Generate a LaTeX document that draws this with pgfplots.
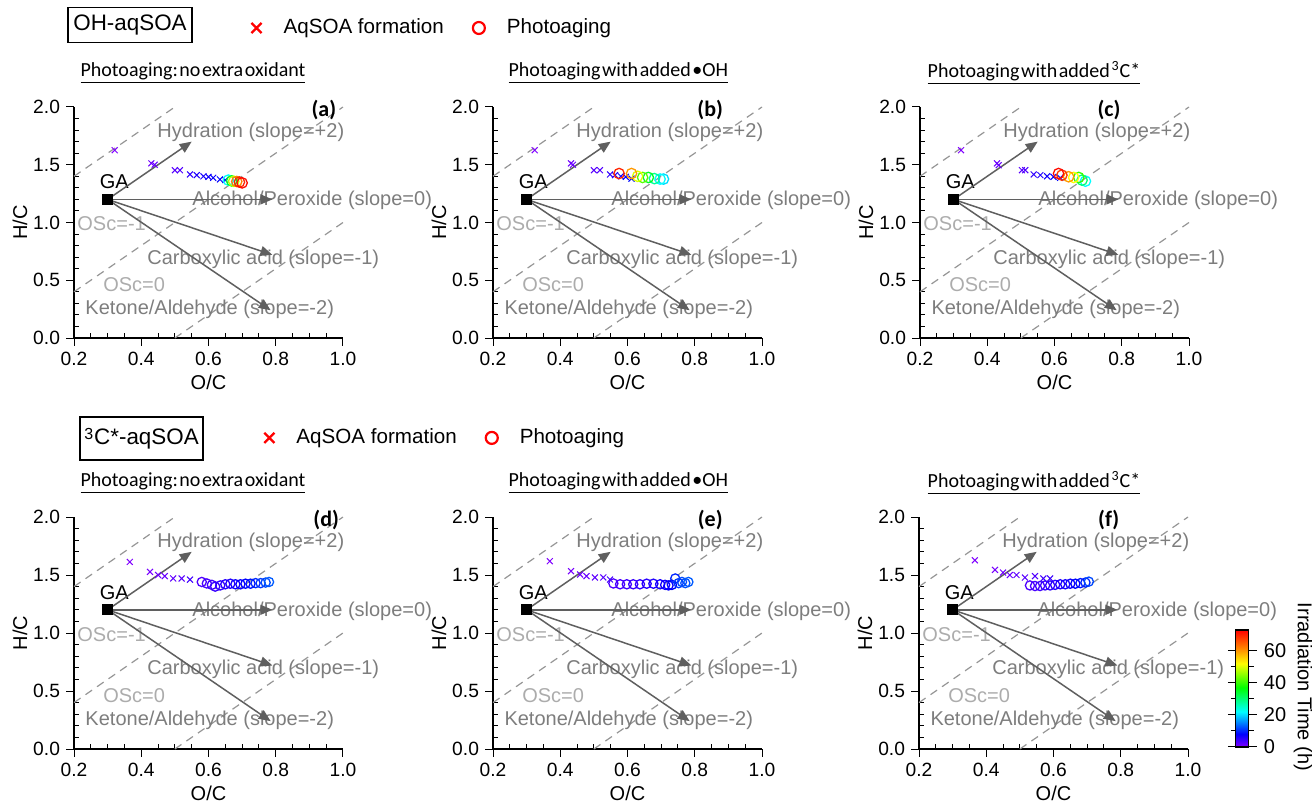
\documentclass[border=0pt]{standalone}
\usepackage{fontspec}
\setmainfont{Liberation Sans}
\newfontfamily\calfont{Carlito}
\usepackage{pgfplots}
\usepackage{pgfplotstable}
\pgfplotsset{compat=1.18}
\usetikzlibrary{arrows.meta}

\definecolor{anntext}{RGB}{125,125,125}
\definecolor{osctext}{RGB}{172,172,172}
\definecolor{arrcol}{RGB}{95,95,95}
\definecolor{dashcol}{RGB}{150,150,150}

\tikzset{ann/.style={anntext, inner sep=0pt, font=\fontsize{10}{12}\selectfont},
  plet/.style={inner sep=0pt, font=\calfont\bfseries\fontsize{11}{13}\selectfont}}

\pgfplotsset{
  colormap={irr}{rgb255(0cm)=(128,0,255) rgb255(8cm)=(0,0,255) rgb255(22cm)=(0,255,255) rgb255(37cm)=(0,255,0) rgb255(52cm)=(255,255,0) rgb255(62cm)=(255,128,0) rgb255(73cm)=(255,0,0)},
  panel/.style={
    scale only axis, width=134.5pt,
    xmin=0.2, xmax=1.0, ymin=0, ymax=2.0,
    axis lines*=left, clip=false,
    xtick={0.2,0.4,0.6,0.8,1.0}, ytick={0,0.5,1.0,1.5,2.0},
    minor x tick num=3, minor y tick num=4,
    tick align=inside, major tick length=-4pt, minor tick length=2.5pt,
    axis line style={line width=0.6pt},
    every tick/.style={black, line width=0.5pt},
    xticklabel style={yshift=-3.5pt},
    yticklabel style={xshift=-3.5pt},
    tick label style={font=\fontsize{9.6}{11}\selectfont},
    /pgf/number format/.cd, fixed, fixed zerofill, precision=1, assume math mode=true,
    /pgfplots/.cd,
    xlabel={O/C}, ylabel={H/C},
    label style={font=\fontsize{10}{12}\selectfont},
    every axis x label/.style={at={(axis description cs:0.5,0)}, yshift=-22pt, anchor=center},
    every axis y label/.style={at={(axis description cs:0,0.5)}, xshift=-27pt, rotate=90, anchor=center},
    colormap name=irr, point meta min=0, point meta max=73,
  },
  osc/.style={dashcol, line width=0.6pt, dash pattern=on 4pt off 3pt, forget plot},
  arr/.style={arrcol, line width=0.75pt, -{Triangle[length=6pt,width=5pt]}, forget plot},
  xs/.style={scatter, only marks, mark=x, mark size=2.1pt, line width=0.5pt, scatter src=explicit, scatter/use mapped color={draw=mapped color, fill=mapped color}, forget plot},
  os/.style={scatter, only marks, mark=o, mark size=#1, line width=0.65pt, scatter src=explicit, scatter/use mapped color={draw=mapped color, fill=none}, forget plot},
}

\newcommand\annot{%
  \addplot[osc] coordinates {(0.2,1.4) (0.5,2.0)};
  \addplot[osc] coordinates {(0.2,0.4) (1.0,2.0)};
  \addplot[osc] coordinates {(0.5,0) (1.0,1.0)};
  \node[ann, anchor=west] at (axis cs:0.447,1.785) {Hydration (slope=+2)};
  \node[ann, anchor=west] at (axis cs:0.551,1.19) {Alcohol/Peroxide (slope=0)};
  \node[ann, anchor=west] at (axis cs:0.417,0.685) {Carboxylic acid (slope=-1)};
  \node[ann, anchor=west] at (axis cs:0.233,0.245) {Ketone/Aldehyde (slope=-2)};
  \node[ann, osctext, anchor=west] at (axis cs:0.209,0.987) {OSc=-1};
  \node[ann, osctext, anchor=west] at (axis cs:0.286,0.46) {OSc=0};
  \node[inner sep=0pt, font=\fontsize{10}{12}\selectfont] at (axis cs:0.32,1.35) {GA};
  \addplot[arr] coordinates {(0.3,1.2) (0.55,1.70)};
  \addplot[arr] coordinates {(0.3,1.2) (0.79,1.2)};
  \addplot[arr] coordinates {(0.3,1.2) (0.79,0.72)};
  \addplot[arr] coordinates {(0.3,1.2) (0.785,0.24)};
  \addplot[only marks, mark=square*, mark size=2.5pt, black, forget plot] coordinates {(0.3,1.2)};
}

\pgfplotstableread{
x y t
0.321 1.626 0
0.430 1.512 1
0.440 1.500 1.5
0.500 1.453 2.5
0.515 1.453 3
0.545 1.416 5
0.565 1.410 6
0.585 1.400 6.5
0.600 1.395 7
0.614 1.387 7.5
0.634 1.373 8
0.650 1.367 9
}\aX
\pgfplotstableread{
x y t
0.659 1.367 22
0.669 1.360 35
0.675 1.357 48
0.684 1.355 62
0.692 1.350 70
0.700 1.343 72
}\aO
\pgfplotstableread{
x y t
0.324 1.626 0
0.432 1.512 1
0.438 1.500 1.5
0.500 1.453 2.5
0.518 1.453 3
0.548 1.416 5
0.563 1.410 6
0.580 1.400 7
0.595 1.395 7.5
0.612 1.380 8.5
}\bX
\pgfplotstableread{
x y t
0.707 1.376 20
0.697 1.376 22
0.680 1.380 28
0.662 1.390 35
0.645 1.390 42
0.630 1.400 50
0.612 1.424 60
0.575 1.424 70
}\bO
\pgfplotstableread{
x y t
0.322 1.626 0
0.429 1.512 1
0.434 1.496 1.5
0.503 1.453 2.5
0.513 1.453 3
0.538 1.416 5
0.558 1.410 6
0.578 1.400 7
0.597 1.395 7.5
0.617 1.387 8.5
}\cX
\pgfplotstableread{
x y t
0.692 1.358 22
0.682 1.367 30
0.672 1.390 40
0.657 1.390 52
0.642 1.396 60
0.622 1.410 68
0.612 1.424 72
}\cO
\pgfplotstableread{
x y t
0.366 1.613 0
0.426 1.527 0.5
0.450 1.500 1
0.470 1.490 1.5
0.495 1.470 2
0.520 1.470 2.5
0.545 1.460 4
}\dX
\pgfplotstableread{
x y t
0.580 1.440 3
0.595 1.427 3.5
0.610 1.415 4
0.620 1.400 4.5
0.635 1.410 5
0.650 1.420 5.5
0.665 1.425 6
0.680 1.420 7
0.695 1.420 7.5
0.710 1.425 8
0.725 1.425 9
0.740 1.430 10
0.755 1.430 11
0.770 1.435 12
0.780 1.440 13
}\dO
\pgfplotstableread{
x y t
0.369 1.619 0
0.432 1.533 0.5
0.459 1.504 1
0.478 1.490 1.5
0.503 1.479 2
0.528 1.479 2.5
0.548 1.461 4
}\eX
\pgfplotstableread{
x y t
0.558 1.427 3
0.578 1.420 3.5
0.598 1.420 4
0.617 1.420 4.5
0.637 1.420 5
0.657 1.425 5.5
0.677 1.425 6
0.697 1.420 6.5
0.712 1.415 7
0.722 1.410 7.5
0.732 1.415 8
0.742 1.470 10
0.752 1.430 11
0.762 1.440 12
0.772 1.430 12.5
0.781 1.440 13
}\eO
\pgfplotstableread{
x y t
0.366 1.627 0
0.426 1.544 0.5
0.450 1.521 1
0.470 1.500 1.5
0.490 1.500 2
0.515 1.478 2.5
0.545 1.490 3
0.570 1.470 4
0.590 1.470 4.5
}\fX
\pgfplotstableread{
x y t
0.530 1.410 3
0.545 1.405 3.5
0.560 1.405 4
0.575 1.410 4.5
0.590 1.410 5
0.605 1.415 5.5
0.620 1.420 6
0.635 1.420 6.5
0.650 1.425 7
0.665 1.425 8
0.680 1.430 9
0.695 1.435 10
0.705 1.443 12
}\fO

\newcommand\hdrlegend{%
  \addlegendimage{only marks, mark=x, mark size=3.6pt, line width=1.2pt, red}
  \addlegendentry{AqSOA formation}
  \addlegendimage{only marks, mark=o, mark size=3pt, line width=1.1pt, red}
  \addlegendentry{Photoaging}
}
\pgfplotsset{hdr/.style={legend style={at={(#1)}, anchor=west, draw=none, fill=none, inner sep=0pt, legend columns=-1, font=\fontsize{10.3}{12}\selectfont, /tikz/every odd column/.append style={column sep=9pt}, /tikz/every even column/.append style={column sep=12.5pt}}}}

\begin{document}
\begin{tikzpicture}
\useasboundingbox (0,0) rectangle (656pt,405pt);
\def\tfont{\calfont\fontsize{10}{12}\selectfont}
\def\s{\hspace{0.08em}}
% headers
\node[draw, line width=0.6pt, minimum width=62pt, minimum height=17.5pt, inner sep=1pt, font=\fontsize{11.2}{13}\selectfont] at (65pt,392.5pt) {OH-aqSOA};
\node[draw, line width=0.6pt, minimum width=61.5pt, minimum height=21.5pt, inner sep=1pt, font=\fontsize{11.2}{13}\selectfont] at (70.75pt,185.75pt) {\raisebox{-1.5pt}{\textsuperscript{\fontsize{8}{9}\selectfont 3}}C*-aqSOA};
% titles
\node[font=\tfont] at (96.5pt,368.5pt) {\underline{Photoaging:\s no\s extra\s oxidant}};
\node[font=\tfont] at (309.2pt,368.5pt) {\underline{Photoaging\s with\s added\s •OH}};
\node[font=\tfont] at (517pt,368.5pt) {\underline{Photoaging\s with\s added\s \textsuperscript{3}C*}};
\node[font=\tfont] at (96.5pt,163.5pt) {\underline{Photoaging:\s no\s extra\s oxidant}};
\node[font=\tfont] at (309.2pt,163.5pt) {\underline{Photoaging\s with\s added\s •OH}};
\node[font=\tfont] at (517pt,163.5pt) {\underline{Photoaging\s with\s added\s \textsuperscript{3}C*}};

% (a)
\begin{axis}[panel, hdr={0.658,1.342}, height=115.5pt, at={(37pt,236pt)}, anchor=south west]
\hdrlegend
\annot
\addplot[xs] table[x=x,y=y,meta=t] {\aX};
\addplot[os=2.6pt] table[x=x,y=y,meta=t] {\aO};
\node[plet] at (axis cs:0.943,1.97) {(a)};
\end{axis}
% (b)
\begin{axis}[panel, height=115.5pt, at={(246.5pt,236pt)}, anchor=south west]
\annot
\addplot[xs] table[x=x,y=y,meta=t] {\bX};
\addplot[os=2.6pt] table[x=x,y=y,meta=t] {\bO};
\node[plet] at (axis cs:0.846,1.97) {(b)};
\end{axis}
% (c)
\begin{axis}[panel, height=115.5pt, at={(460pt,236pt)}, anchor=south west]
\annot
\addplot[xs] table[x=x,y=y,meta=t] {\cX};
\addplot[os=2.6pt] table[x=x,y=y,meta=t] {\cO};
\node[plet] at (axis cs:0.762,1.97) {(c)};
\end{axis}
% (d)
\begin{axis}[panel, hdr={0.706,1.341}, height=116pt, at={(37pt,30.5pt)}, anchor=south west]
\hdrlegend
\annot
\addplot[xs] table[x=x,y=y,meta=t] {\dX};
\addplot[os=2.3pt] table[x=x,y=y,meta=t] {\dO};
\node[plet] at (axis cs:0.95,1.975) {(d)};
\end{axis}
% (e)
\begin{axis}[panel, height=116pt, at={(246.5pt,30.5pt)}, anchor=south west]
\annot
\addplot[xs] table[x=x,y=y,meta=t] {\eX};
\addplot[os=2.3pt] table[x=x,y=y,meta=t] {\eO};
\node[plet] at (axis cs:0.846,1.975) {(e)};
\end{axis}
% (f)
\begin{axis}[panel, height=116pt, at={(459.5pt,30.5pt)}, anchor=south west,
  colorbar,
  colorbar style={at={(1.178,0.009)}, anchor=south west, scale only axis, width=6.5pt, height=58.5pt,
    ytick={0,20,40,60}, minor y tick num=1, yticklabel pos=right,
    tick align=outside, major tick length=4pt, minor tick length=2.5pt,
    every tick/.style={black, line width=0.5pt},
    axis line style={line width=0.6pt},
    yticklabel style={font=\fontsize{10}{12}\selectfont},
    /pgf/number format/assume math mode=true}]
\annot
\addplot[xs] table[x=x,y=y,meta=t] {\fX};
\addplot[os=2.3pt] table[x=x,y=y,meta=t] {\fO};
\node[plet] at (axis cs:0.764,1.975) {(f)};
\end{axis}
\node[rotate=-90, font=\fontsize{10}{12}\selectfont] at (651.5pt,61.5pt) {Irradiation Time (h)};
\end{tikzpicture}
\end{document}
